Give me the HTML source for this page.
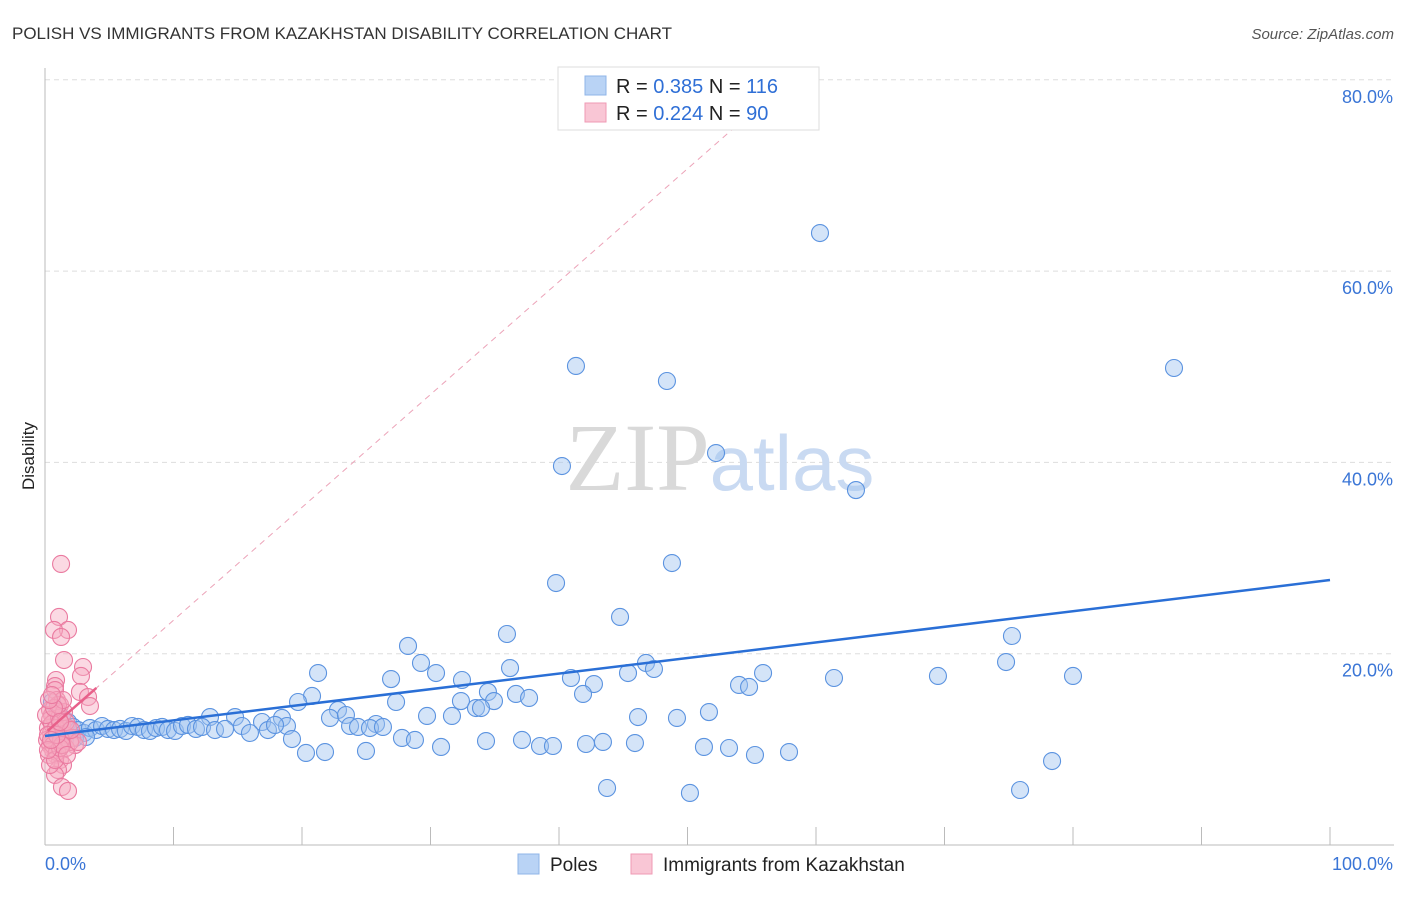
<!DOCTYPE html>
<html><head><meta charset="utf-8"><style>
body{margin:0;background:#fff;font-family:"Liberation Sans",sans-serif}
</style></head><body>
<svg id="c" width="1406" height="892" xmlns="http://www.w3.org/2000/svg">
<text x="12" y="39" font-size="17" fill="#333">POLISH VS IMMIGRANTS FROM KAZAKHSTAN DISABILITY CORRELATION CHART</text>
<text x="1394" y="39" font-size="15" fill="#555" font-style="italic" text-anchor="end">Source: ZipAtlas.com</text>
<text x="34" y="456" font-size="17" fill="#222" transform="rotate(-90 34 456)" text-anchor="middle">Disability</text>
<g id="grid"></g>
<text x="720" y="490" font-size="96" fill="#ddd" text-anchor="middle" font-family="Liberation Serif"><tspan fill="#d9d9d9">ZIP</tspan><tspan fill="#c9daf2" font-family="Liberation Sans" font-size="78">atlas</tspan></text>
<g id="marks"></g>
<g>
<rect x="558" y="67" width="261" height="63" fill="#fff" stroke="#ddd"/>
<rect x="585" y="76" width="21" height="19" fill="#b9d3f5" stroke="#8fb4e8"/>
<rect x="585" y="103" width="21" height="19" fill="#f9c6d5" stroke="#ef9ab4"/>
<text x="616" y="93" font-size="20" fill="#222">R = <tspan fill="#2f6fd6">0.385</tspan>   N = <tspan fill="#2f6fd6">116</tspan></text>
<text x="616" y="120" font-size="20" fill="#222">R = <tspan fill="#2f6fd6">0.224</tspan>   N = <tspan fill="#2f6fd6"> 90</tspan></text>
</g>
<g>
<rect x="518" y="854" width="21" height="20" fill="#b9d3f5" stroke="#8fb4e8"/>
<text x="550" y="871" font-size="19" fill="#222">Poles</text>
<rect x="631" y="854" width="21" height="20" fill="#f9c6d5" stroke="#ef9ab4"/>
<text x="663" y="871" font-size="19" fill="#222">Immigrants from Kazakhstan</text>
</g>
</svg>
<script>
const yTicks=[20,40,60,80];
const yTickLabels=["20.0%","40.0%","60.0%","80.0%"];
const xTickLabels=["0.0%","100.0%"];
const bluePx=[[820,233],[576,366],[667,381],[1174,368],[562,466],[716,453],[856,490],[556,583],[672,563],[620,617],[1012,636],[507,634],[408,646],[421,663],[646,663],[1006,662],[318,673],[436,673],[654,669],[510,668],[571,678],[594,684],[628,673],[763,673],[834,678],[938,676],[1073,676],[391,679],[462,680],[312,696],[298,702],[396,702],[488,692],[516,694],[529,698],[583,694],[739,685],[749,687],[461,701],[476,708],[494,701],[338,710],[330,718],[346,715],[427,716],[452,716],[481,708],[638,717],[677,718],[709,712],[210,717],[235,717],[282,718],[262,722],[287,726],[376,724],[350,726],[358,727],[370,728],[383,727],[292,739],[402,738],[415,740],[486,741],[522,740],[306,753],[325,752],[366,751],[441,747],[540,746],[553,746],[586,744],[603,742],[635,743],[704,747],[729,748],[755,755],[789,752],[1052,761],[607,788],[690,793],[1020,790],[52,702],[57,710],[62,718],[68,722],[73,727],[78,730],[84,733],[90,728],[96,730],[102,726],[108,729],[114,730],[120,729],[126,731],[132,726],[138,727],[144,730],[150,731],[156,728],[162,727],[168,730],[175,731],[182,726],[188,725],[196,729],[202,727],[215,730],[225,729],[242,726],[250,733],[268,730],[275,725],[58,735],[65,740],[75,738],[86,737]];
const pinkPx=[[61,564],[59,617],[68,630],[54,630],[61,637],[64,660],[83,667],[81,676],[56,680],[55,686],[80,692],[88,697],[90,706],[55,690],[57,700],[60,705],[50,710],[52,715],[55,720],[58,712],[62,725],[48,728],[51,733],[54,738],[57,742],[60,730],[65,735],[68,728],[72,738],[75,745],[50,745],[53,750],[56,755],[60,760],[63,765],[58,770],[55,775],[62,787],[68,791],[50,720],[47,740],[49,755],[66,748],[70,742],[78,742],[52,724],[56,728],[59,718],[64,712],[48,735],[53,745],[57,752],[61,740],[66,722],[71,730],[50,765],[55,760],[60,748],[46,715],[58,705],[63,700],[54,708],[49,700],[52,695],[62,745],[67,755],[48,750],[57,735],[60,722],[51,740]];
// convert read pixel positions to data values
const toVX=p=>+((p-45)/12.85).toFixed(2), toVY=p=>+((845-p)/9.565).toFixed(2);
const poles=bluePx.map(p=>[toVX(p[0]),toVY(p[1])]);
const kaz=pinkPx.map(p=>[toVX(p[0]),toVY(p[1])]);
const blueFit=[11.4,0.163]; // intercept, slope
const pinkFit=[11.7,1.18];
const X=v=>45+v*12.85, Y=v=>845-v*9.565;
const ns="http://www.w3.org/2000/svg";
function mk(t,a,p){const e=document.createElementNS(ns,t);for(const k in a)e.setAttribute(k,a[k]);p.appendChild(e);return e;}
const g=document.getElementById('grid'), m=document.getElementById('marks');
yTicks.forEach((t,i)=>{
 const l=mk('line',{x1:45,x2:1394,y1:Y(t),y2:Y(t),stroke:'#ddd','stroke-dasharray':'5,4'},g);
 
 
 const tx=mk('text',{x:1393,y:Y(t)+23,'font-size':18,fill:'#3a75d6','text-anchor':'end'},g);
 tx.textContent=yTickLabels[i];
 
 
});
mk('line',{x1:45,x2:45,y1:68,y2:845,stroke:'#bbb'},g);
mk('line',{x1:45,x2:1394,y1:845,y2:845,stroke:'#bbb'},g);
for(let i=0;i<=10;i++){const l=mk('line',{x1:X(i*10),x2:X(i*10),y1:827,y2:845,stroke:'#bbb'},g);
 
 }
[[45,'start'],[1393,'end']].forEach((d,i)=>{const t=mk('text',{x:d[0],y:870,'font-size':18,fill:'#3a75d6','text-anchor':d[1]},g);t.textContent=xTickLabels[i];
 
 });
const dl=mk('line',{x1:X(0),y1:Y(pinkFit[0]),x2:X(55),y2:Y(pinkFit[0]+pinkFit[1]*55),stroke:'#eca3b8','stroke-dasharray':'6,5'},m);


poles.forEach(p=>{const c=mk('circle',{cx:X(p[0]),cy:Y(p[1]),r:8.5,fill:'rgba(160,196,240,0.45)',stroke:'#5b93e0','stroke-width':1.1},m);
 
 });
kaz.forEach(p=>{const c=mk('circle',{cx:X(p[0]),cy:Y(p[1]),r:8.5,fill:'rgba(246,170,194,0.45)',stroke:'#ea7aa0','stroke-width':1.1},m);
 
 });
const bl=mk('line',{x1:X(0),y1:Y(blueFit[0]),x2:X(100),y2:Y(blueFit[0]+blueFit[1]*100),stroke:'#2a6fd6','stroke-width':2.5},m);


const pl=mk('line',{x1:X(0.2),y1:Y(pinkFit[0]+pinkFit[1]*0.2),x2:X(4),y2:Y(pinkFit[0]+pinkFit[1]*4),stroke:'#e8608a','stroke-width':2.5},m);


</script>
</body></html>
